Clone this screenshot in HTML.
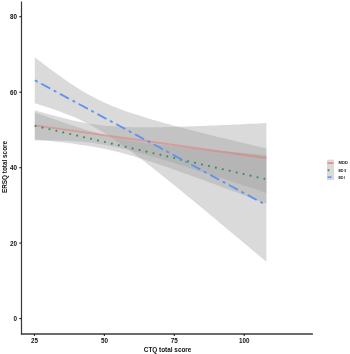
<!DOCTYPE html>
<html><head><meta charset="utf-8"><style>
html,body{margin:0;padding:0;background:#fff;width:350px;height:354px;overflow:hidden}
svg{display:block}
text{font-family:"Liberation Sans",sans-serif;font-weight:bold;fill:#111}
svg{will-change:transform}
.t{font-size:6.3px}
.ti{font-size:6.4px}
.lg{font-size:4.2px}
</style></head><body>
<svg width="350" height="354" viewBox="0 0 350 354">
<rect width="350" height="354" fill="#fff"/>
<path d="M34.80,110.26 L38.73,111.41 L42.65,112.54 L46.58,113.65 L50.50,114.74 L54.43,115.81 L58.35,116.84 L62.28,117.85 L66.20,118.82 L70.13,119.75 L74.05,120.63 L77.98,121.47 L81.91,122.25 L85.83,122.98 L89.76,123.65 L93.68,124.26 L97.61,124.80 L101.53,125.28 L105.46,125.70 L109.38,126.06 L113.31,126.37 L117.23,126.62 L121.16,126.83 L125.08,126.99 L129.01,127.12 L132.94,127.21 L136.86,127.27 L140.79,127.31 L144.71,127.32 L148.64,127.31 L152.56,127.28 L156.49,127.23 L160.41,127.17 L164.34,127.10 L168.26,127.01 L172.19,126.92 L176.12,126.81 L180.04,126.70 L183.97,126.58 L187.89,126.45 L191.82,126.32 L195.74,126.18 L199.67,126.03 L203.59,125.88 L207.52,125.73 L211.44,125.58 L215.37,125.42 L219.29,125.25 L223.22,125.09 L227.15,124.92 L231.07,124.75 L235.00,124.57 L238.92,124.40 L242.85,124.22 L246.77,124.04 L250.70,123.86 L254.62,123.67 L258.55,123.49 L262.47,123.30 L266.40,123.12 L266.40,192.96 L262.47,191.67 L258.55,190.37 L254.62,189.08 L250.70,187.79 L246.77,186.50 L242.85,185.21 L238.92,183.93 L235.00,182.64 L231.07,181.36 L227.15,180.08 L223.22,178.81 L219.29,177.53 L215.37,176.26 L211.44,174.99 L207.52,173.73 L203.59,172.47 L199.67,171.21 L195.74,169.96 L191.82,168.71 L187.89,167.47 L183.97,166.24 L180.04,165.01 L176.12,163.79 L172.19,162.58 L168.26,161.37 L164.34,160.18 L160.41,159.00 L156.49,157.83 L152.56,156.68 L148.64,155.54 L144.71,154.42 L140.79,153.32 L136.86,152.25 L132.94,151.20 L129.01,150.19 L125.08,149.21 L121.16,148.26 L117.23,147.36 L113.31,146.51 L109.38,145.71 L105.46,144.96 L101.53,144.27 L97.61,143.64 L93.68,143.08 L89.76,142.58 L85.83,142.14 L81.91,141.76 L77.98,141.44 L74.05,141.16 L70.13,140.94 L66.20,140.76 L62.28,140.63 L58.35,140.52 L54.43,140.45 L50.50,140.41 L46.58,140.39 L42.65,140.40 L38.73,140.42 L34.80,140.46 Z" fill="#A0A0A0" fill-opacity="0.39"/>
<path d="M34.80,112.36 L38.73,113.77 L42.65,115.18 L46.58,116.57 L50.50,117.96 L54.43,119.34 L58.35,120.70 L62.28,122.05 L66.20,123.39 L70.13,124.70 L74.05,126.00 L77.98,127.27 L81.91,128.52 L85.83,129.73 L89.76,130.92 L93.68,132.06 L97.61,133.17 L101.53,134.23 L105.46,135.24 L109.38,136.21 L113.31,137.12 L117.23,137.98 L121.16,138.80 L125.08,139.56 L129.01,140.28 L132.94,140.96 L136.86,141.59 L140.79,142.20 L144.71,142.77 L148.64,143.32 L152.56,143.84 L156.49,144.34 L160.41,144.82 L164.34,145.29 L168.26,145.74 L172.19,146.18 L176.12,146.61 L180.04,147.03 L183.97,147.43 L187.89,147.84 L191.82,148.23 L195.74,148.62 L199.67,149.00 L203.59,149.38 L207.52,149.75 L211.44,150.12 L215.37,150.49 L219.29,150.85 L223.22,151.21 L227.15,151.56 L231.07,151.92 L235.00,152.27 L238.92,152.62 L242.85,152.97 L246.77,153.31 L250.70,153.66 L254.62,154.00 L258.55,154.34 L262.47,154.68 L266.40,155.02 L266.40,203.61 L262.47,202.14 L258.55,200.66 L254.62,199.19 L250.70,197.72 L246.77,196.25 L242.85,194.79 L238.92,193.32 L235.00,191.86 L231.07,190.40 L227.15,188.94 L223.22,187.49 L219.29,186.03 L215.37,184.58 L211.44,183.14 L207.52,181.70 L203.59,180.26 L199.67,178.82 L195.74,177.39 L191.82,175.97 L187.89,174.55 L183.97,173.14 L180.04,171.74 L176.12,170.34 L172.19,168.96 L168.26,167.59 L164.34,166.23 L160.41,164.88 L156.49,163.55 L152.56,162.24 L148.64,160.95 L144.71,159.68 L140.79,158.45 L136.86,157.24 L132.94,156.06 L129.01,154.93 L125.08,153.84 L121.16,152.79 L117.23,151.79 L113.31,150.84 L109.38,149.94 L105.46,149.09 L101.53,148.29 L97.61,147.54 L93.68,146.84 L89.76,146.17 L85.83,145.54 L81.91,144.95 L77.98,144.38 L74.05,143.84 L70.13,143.33 L66.20,142.83 L62.28,142.35 L58.35,141.89 L54.43,141.44 L50.50,141.01 L46.58,140.58 L42.65,140.17 L38.73,139.76 L34.80,139.36 Z" fill="#A0A0A0" fill-opacity="0.39"/>
<path d="M34.80,57.21 L38.73,60.26 L42.65,63.28 L46.58,66.27 L50.50,69.21 L54.43,72.12 L58.35,74.97 L62.28,77.77 L66.20,80.50 L70.13,83.16 L74.05,85.75 L77.98,88.25 L81.91,90.66 L85.83,92.98 L89.76,95.19 L93.68,97.30 L97.61,99.31 L101.53,101.22 L105.46,103.04 L109.38,104.76 L113.31,106.40 L117.23,107.96 L121.16,109.45 L125.08,110.88 L129.01,112.26 L132.94,113.59 L136.86,114.87 L140.79,116.12 L144.71,117.33 L148.64,118.51 L152.56,119.66 L156.49,120.79 L160.41,121.91 L164.34,123.00 L168.26,124.08 L172.19,125.14 L176.12,126.19 L180.04,127.22 L183.97,128.25 L187.89,129.27 L191.82,130.27 L195.74,131.28 L199.67,132.27 L203.59,133.26 L207.52,134.24 L211.44,135.21 L215.37,136.18 L219.29,137.15 L223.22,138.11 L227.15,139.07 L231.07,140.02 L235.00,140.97 L238.92,141.92 L242.85,142.87 L246.77,143.81 L250.70,144.75 L254.62,145.69 L258.55,146.62 L262.47,147.55 L266.40,148.49 L266.40,261.86 L262.47,258.56 L258.55,255.26 L254.62,251.96 L250.70,248.66 L246.77,245.37 L242.85,242.08 L238.92,238.79 L235.00,235.50 L231.07,232.21 L227.15,228.93 L223.22,225.66 L219.29,222.38 L215.37,219.12 L211.44,215.85 L207.52,212.59 L203.59,209.34 L199.67,206.09 L195.74,202.85 L191.82,199.62 L187.89,196.39 L183.97,193.17 L180.04,189.96 L176.12,186.76 L172.19,183.58 L168.26,180.41 L164.34,177.25 L160.41,174.11 L156.49,170.98 L152.56,167.88 L148.64,164.80 L144.71,161.75 L140.79,158.72 L136.86,155.73 L132.94,152.78 L129.01,149.87 L125.08,147.01 L121.16,144.21 L117.23,141.47 L113.31,138.80 L109.38,136.20 L105.46,133.69 L101.53,131.27 L97.61,128.94 L93.68,126.72 L89.76,124.59 L85.83,122.57 L81.91,120.65 L77.98,118.83 L74.05,117.10 L70.13,115.45 L66.20,113.88 L62.28,112.38 L58.35,110.94 L54.43,109.56 L50.50,108.23 L46.58,106.94 L42.65,105.69 L38.73,104.47 L34.80,103.29 Z" fill="#A0A0A0" fill-opacity="0.39"/>
<path d="M34.80,125.36 L266.40,158.04" stroke="#E8766E" stroke-opacity="0.5" stroke-width="1.9" fill="none"/>
<path d="M34.80,125.86 L266.40,179.31" stroke="#2E9257" stroke-width="2.1" fill="none" stroke-linecap="round" stroke-dasharray="0.01 7.1068" stroke-dashoffset="-0.770"/>
<path d="M34.80,80.25 L266.40,205.18" stroke="#6095EE" stroke-opacity="1" stroke-width="1.9" fill="none" stroke-linecap="round" stroke-dasharray="1.500 5.516 8.800 5.516" stroke-dashoffset="-0.897"/>
<path d="M21.50,1.60 L21.50,334.60" stroke="#383838" stroke-width="1.2" fill="none"/>
<path d="M20.90,334.00 L312.90,334.00" stroke="#3a3a3a" stroke-width="1.5" fill="none"/>
<path d="M19.30,16.70 L21.50,16.70" stroke="#1f1f1f" stroke-width="1.1"/>
<text x="16.9" y="19.10" text-anchor="end" class="t">80</text>
<path d="M19.30,92.20 L21.50,92.20" stroke="#1f1f1f" stroke-width="1.1"/>
<text x="16.9" y="94.60" text-anchor="end" class="t">60</text>
<path d="M19.30,167.70 L21.50,167.70" stroke="#1f1f1f" stroke-width="1.1"/>
<text x="16.9" y="170.10" text-anchor="end" class="t">40</text>
<path d="M19.30,243.10 L21.50,243.10" stroke="#1f1f1f" stroke-width="1.1"/>
<text x="16.9" y="245.50" text-anchor="end" class="t">20</text>
<path d="M19.30,318.60 L21.50,318.60" stroke="#1f1f1f" stroke-width="1.1"/>
<text x="16.9" y="321.00" text-anchor="end" class="t">0</text>
<path d="M34.50,334.00 L34.50,335.90" stroke="#1f1f1f" stroke-width="1.1"/>
<text x="34.50" y="342.6" text-anchor="middle" class="t">25</text>
<path d="M104.40,334.00 L104.40,335.90" stroke="#1f1f1f" stroke-width="1.1"/>
<text x="104.40" y="342.6" text-anchor="middle" class="t">50</text>
<path d="M174.30,334.00 L174.30,335.90" stroke="#1f1f1f" stroke-width="1.1"/>
<text x="174.30" y="342.6" text-anchor="middle" class="t">75</text>
<path d="M244.20,334.00 L244.20,335.90" stroke="#1f1f1f" stroke-width="1.1"/>
<text x="244.20" y="342.6" text-anchor="middle" class="t">100</text>
<text x="167.6" y="351.9" text-anchor="middle" class="ti">CTQ total score</text>
<text transform="translate(6.7,167) rotate(-90)" text-anchor="middle" class="ti">ERSQ total score</text>
<rect x="327.0" y="159.7" width="7.0" height="20.4" fill="#A0A0A0" fill-opacity="0.39"/>
<path d="M327.5,163.1 L333.4,163.1" stroke="#F8766D" stroke-opacity="0.85" stroke-width="1.7"/>
<circle cx="328.5" cy="170.3" r="1.0" fill="#2E9257"/>
<path d="M328.3,177.2 L330.8,177.2" stroke="#619CFF" stroke-width="1.8" stroke-linecap="round"/>
<text x="338.6" y="164.40" class="lg" textLength="9.4" lengthAdjust="spacingAndGlyphs">MDD</text>
<text x="338.6" y="171.80" class="lg" textLength="7.7" lengthAdjust="spacingAndGlyphs">BD II</text>
<text x="338.6" y="178.50" class="lg" textLength="6.6" lengthAdjust="spacingAndGlyphs">BD I</text>
</svg>
</body></html>
